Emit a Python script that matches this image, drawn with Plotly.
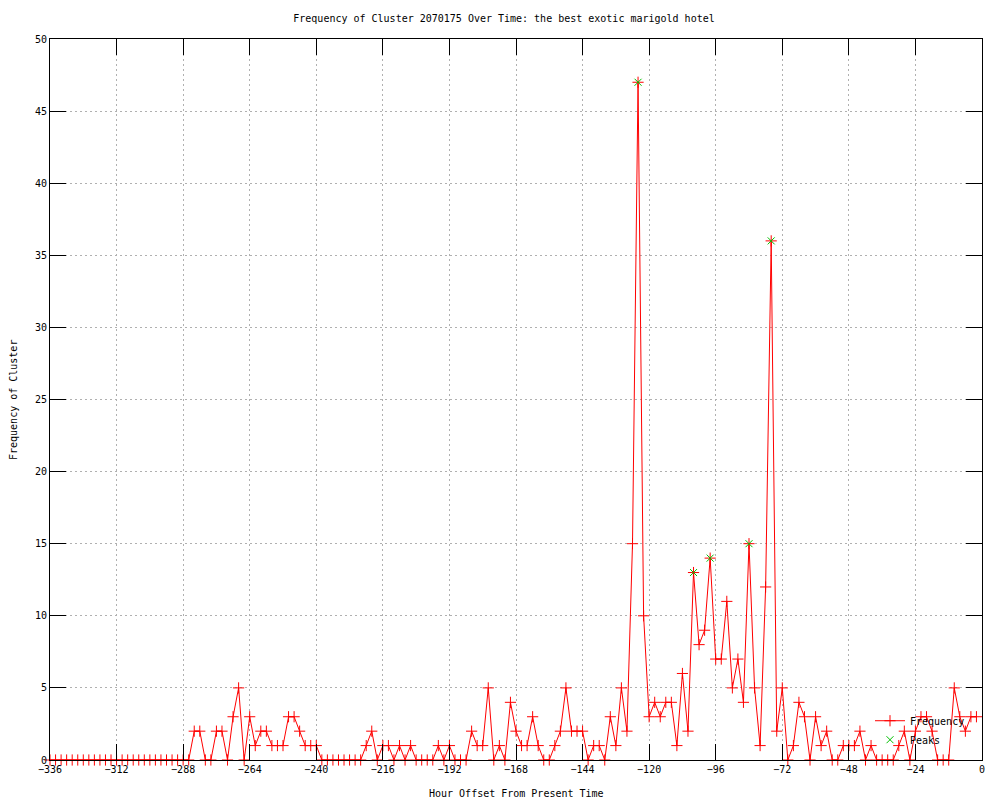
import plotly.graph_objects as go

# Hour offsets (every 2 hours)
hours = list(range(-336, 0, 2))

# Frequency of cluster at each hour offset
frequency = [
    0, 0, 0, 0, 0, 0, 0, 0, 0, 0, 0, 0, 0, 0, 0, 0, 0, 0, 0, 0, 0, 0, 0, 0, 0, 0,  # -336..-286
    2, 2, 0, 0, 2, 2, 0, 3, 5, 0,                                                  # -284..-266
    3, 1, 2, 2, 1, 1, 1, 3, 3, 2, 1, 1,                                            # -264..-242
    1, 0, 0, 0, 0, 0, 0, 0, 0, 1, 2, 0,                                            # -240..-218
    1, 1, 0, 1, 0, 1, 0, 0, 0, 0, 1, 0,                                            # -216..-194
    1, 0, 0, 0, 2, 1, 1, 5, 0, 1, 0, 4,                                            # -192..-170
    2, 1, 1, 3, 1, 0, 0, 1, 2, 5, 2, 2,                                            # -168..-146
    2, 0, 1, 1, 0, 3, 1, 5, 2, 15, 47, 10,                                         # -144..-122
    3, 4, 3, 4, 4, 1, 6, 2, 13, 8, 9, 14,                                          # -120..-98
    7, 7, 11, 5, 7, 4, 15, 5, 1, 12, 36, 2,                                        # -96..-74
    5, 0, 1, 4, 3, 0, 3, 1, 2, 0, 0, 1,                                            # -72..-50
    1, 1, 2, 0, 1, 0, 0, 0, 0, 1, 2, 0,                                            # -48..-26
    2, 3, 3, 2, 0, 0, 0, 5, 3, 2, 3, 3,                                            # -24..-2
]

# Detected peaks
peak_hours = [-124, -104, -98, -84, -76]
peak_values = [47, 13, 14, 15, 36]

x_ticks = list(range(-336, 1, 24))
y_ticks = list(range(0, 51, 5))

FONT = "DejaVu Sans Mono"
W, H = 992, 792  # page body adds an 8px offset

fig = go.Figure()
fig.add_trace(go.Scatter(
    x=hours, y=frequency, name="Frequency",
    mode="lines+markers",
    line=dict(color="#ff0000", width=1),
    marker=dict(symbol="cross-thin-open", size=8,
                line=dict(color="#ff0000", width=1), color="#ff0000"),
    cliponaxis=False,
))
fig.add_trace(go.Scatter(
    x=peak_hours, y=peak_values, name="Peaks",
    mode="markers",
    marker=dict(symbol="x-thin-open", size=7,
                line=dict(color="#00c000", width=1), color="#00c000"),
    cliponaxis=False,
))

axis_common = dict(
    showline=True, linecolor="black", linewidth=1, mirror="allticks",
    ticks="inside", ticklen=16, tickcolor="black", tickwidth=1,
    showgrid=True, gridcolor="#b0b0b0", gridwidth=1, griddash="2px,3px",
    zeroline=False, automargin=False,
    tickfont=dict(family=FONT, size=10, color="black"),
)

fig.update_layout(
    width=W, height=H,
    paper_bgcolor="white", plot_bgcolor="white",
    margin=dict(l=42, r=18, t=31, b=40),
    title=dict(text="Frequency of Cluster 2070175 Over Time: the best exotic marigold hotel",
               x=0.5, xanchor="center", y=1 - 10 / H, yanchor="middle", yref="container",
               font=dict(family=FONT, size=10, color="black")),
    xaxis=dict(range=[-336, 0], tickvals=x_ticks, **axis_common),
    yaxis=dict(range=[0, 50], tickvals=y_ticks, **axis_common),
    legend=dict(x=(870 - 50) / 932, y=0.008, xanchor="left", yanchor="bottom",
                bgcolor="rgba(0,0,0,0)", borderwidth=0,
                font=dict(family=FONT, size=10, color="black"),
                tracegroupgap=0),
    showlegend=True,
    annotations=[
        dict(text="Hour Offset From Present Time", xref="paper", yref="paper",
             x=(516 - 50) / 932, y=-(793 - 760) / 721, xanchor="center", yanchor="middle",
             showarrow=False, font=dict(family=FONT, size=10, color="black")),
        dict(text="Frequency of Cluster", xref="paper", yref="paper",
             x=(13 - 50) / 932, y=(760 - 400) / 721, xanchor="center", yanchor="middle",
             textangle=-90, showarrow=False, font=dict(family=FONT, size=10, color="black")),
    ],
)

fig.write_html("out.html")
